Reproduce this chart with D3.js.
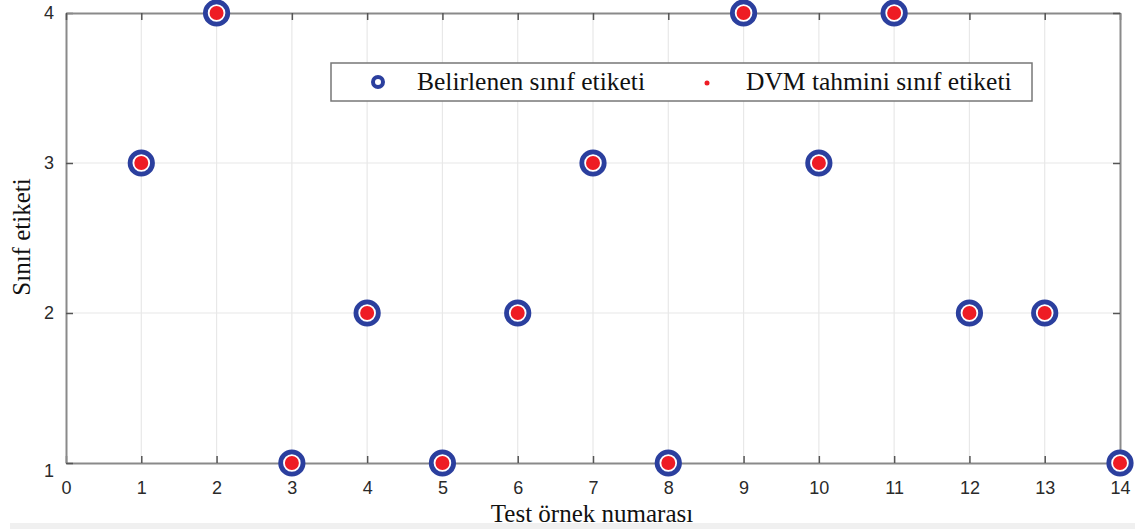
<!DOCTYPE html>
<html><head><meta charset="utf-8">
<script src="https://cdn.jsdelivr.net/npm/d3@7"></script>
<style>body{margin:0;background:#fff;}svg{display:block;}</style>
</head><body>
<script>
const testNumbers = [1,2,3,4,5,6,7,8,9,10,11,12,13,14];
const trueLabels = [3,4,1,2,1,2,3,1,4,3,4,2,2,1];
const predLabels = [3,4,1,2,1,2,3,1,4,3,4,2,2,1];
const xTicks = [0,1,2,3,4,5,6,7,8,9,10,11,12,13,14];
const yTicks = [1,2,3,4];
const legendNames = ["Belirlenen sınıf etiketi","DVM tahmini sınıf etiketi"];

const W=1135,H=529;
const svg=d3.select("body").append("svg").attr("width",W).attr("height",H);
svg.append("rect").attr("x",10).attr("y",523).attr("width",W-10).attr("height",6).attr("fill","#f0f0f0");
const L=66,R=1120,T=13,B=463;
const x=d3.scaleLinear().domain([0,14]).range([L,R]);
const y=d3.scaleLinear().domain([1,4]).range([B,T]);

// grid
svg.append("g").selectAll("line").data(xTicks.slice(1,-1)).join("line")
 .attr("x1",d=>x(d)).attr("x2",d=>x(d)).attr("y1",T).attr("y2",B)
 .attr("stroke","#e8e8e8").attr("stroke-width",1.2);
svg.append("g").selectAll("line").data(yTicks.slice(1,-1)).join("line")
 .attr("y1",d=>y(d)).attr("y2",d=>y(d)).attr("x1",L).attr("x2",R)
 .attr("stroke","#e8e8e8").attr("stroke-width",1.2);

// axes
const ax=svg.append("g").attr("transform",`translate(0,${B})`)
 .call(d3.axisBottom(x).tickValues(xTicks).tickSizeInner(-7).tickSizeOuter(0).tickPadding(18));
const ay=svg.append("g").attr("transform",`translate(${L},0)`)
 .call(d3.axisLeft(y).tickValues(yTicks).tickFormat(d3.format("d")).tickSizeInner(-7).tickSizeOuter(0).tickPadding(12));
const at=svg.append("g").attr("transform",`translate(0,${T})`)
 .call(d3.axisTop(x).tickValues(xTicks).tickSizeInner(-7).tickSizeOuter(0).tickFormat(""));
const ar=svg.append("g").attr("transform",`translate(${R},0)`)
 .call(d3.axisRight(y).tickValues(yTicks).tickSizeInner(-7).tickSizeOuter(0).tickFormat(""));
[ax,ay,at,ar].forEach(g=>{
  g.selectAll(".domain").attr("stroke","#8a8a8a").attr("stroke-width",2);
  g.selectAll(".tick line").attr("stroke","#555").attr("stroke-width",1.5);
  g.selectAll("text").attr("font-family","Liberation Sans, Arial, sans-serif").attr("font-size",18).attr("fill","#2a2a2a");
});
ay.selectAll(".tick").filter(d=>d===1).select("text").attr("dy","0.75em");

// markers
const pts=testNumbers.map((t,i)=>({t,a:trueLabels[i],p:predLabels[i]}));
svg.append("g").selectAll("circle").data(pts).join("circle")
 .attr("cx",d=>x(d.t)).attr("cy",d=>y(d.a)).attr("r",11.2)
 .attr("fill","#fff").attr("stroke","#2b3f9e").attr("stroke-width",4.8);
svg.append("g").selectAll("circle").data(pts).join("circle")
 .attr("cx",d=>x(d.t)).attr("cy",d=>y(d.p)).attr("r",7).attr("fill","#ee1c24");

// legend
const lg=svg.append("g");
lg.append("rect").attr("x",331).attr("y",63).attr("width",701).attr("height",38)
 .attr("fill","#fff").attr("stroke","#777").attr("stroke-width",1.5);
lg.append("circle").attr("cx",378).attr("cy",82).attr("r",5).attr("fill","#fff").attr("stroke","#2b3f9e").attr("stroke-width",4);
lg.append("circle").attr("cx",707).attr("cy",83).attr("r",2.5).attr("fill","#ee1c24");
lg.selectAll("text").data(legendNames).join("text")
 .attr("x",(d,i)=>i===0?417:746).attr("y",90)
 .attr("font-family","Liberation Serif, Times New Roman, serif").attr("font-size",25.5).attr("fill","#111")
 .text(d=>d);

// axis titles
svg.append("text").attr("x",592).attr("y",522).attr("text-anchor","middle")
 .attr("font-family","Liberation Serif, Times New Roman, serif").attr("font-size",25).attr("fill","#111")
 .text("Test örnek numarası");
svg.append("text").attr("transform","translate(30,237) rotate(-90)").attr("text-anchor","middle")
 .attr("font-family","Liberation Serif, Times New Roman, serif").attr("font-size",25).attr("fill","#111")
 .text("Sınıf etiketi");
</script>
</body></html>
